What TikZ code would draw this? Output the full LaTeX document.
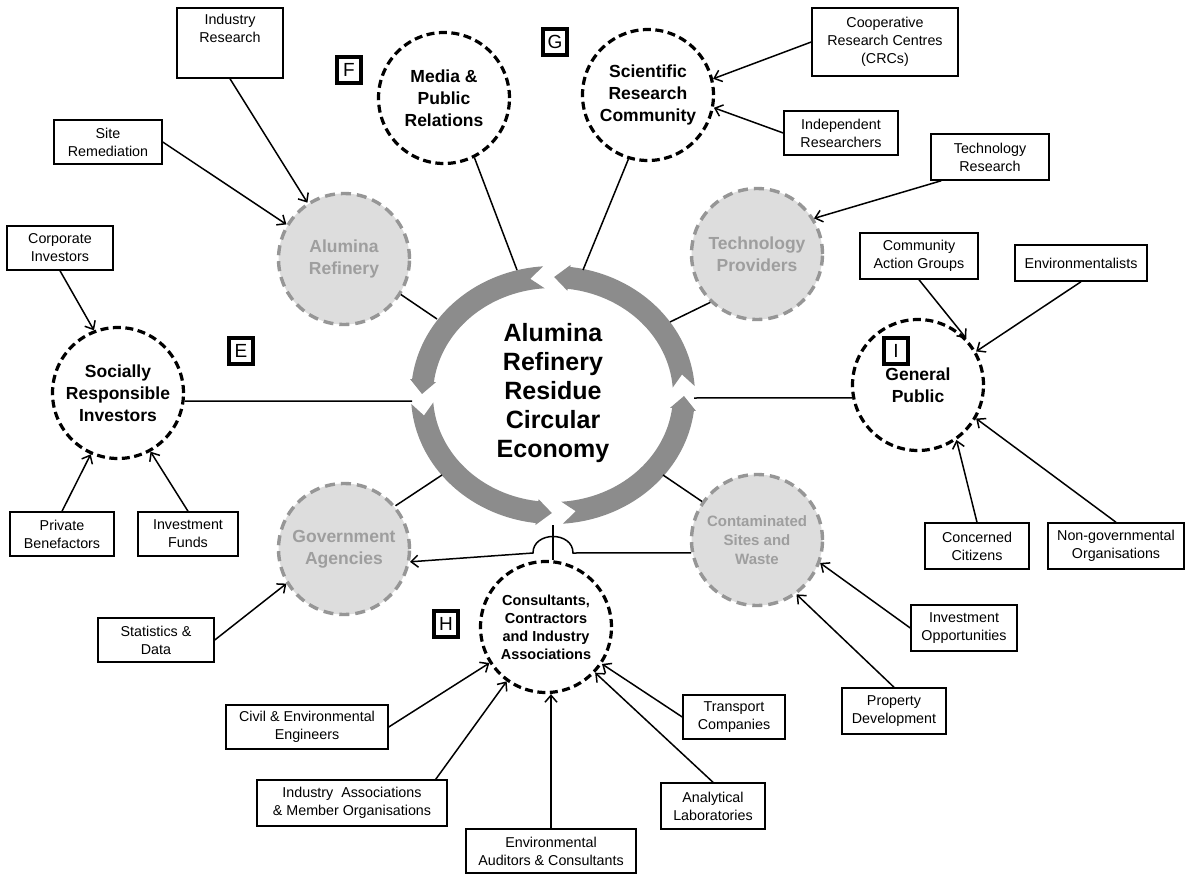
\documentclass[tikz,border=0pt]{standalone}
\usepackage{fontspec}
\setmainfont{Liberation Sans}
\usetikzlibrary{arrows.meta}
\definecolor{ringgray}{RGB}{140,140,140}
\definecolor{softfill}{RGB}{221,221,221}
\definecolor{softline}{RGB}{150,150,150}
\definecolor{softtext}{RGB}{158,158,158}
\tikzset{
  stake/.style={circle, draw=black, line width=3.2pt, dash pattern=on 8pt off 4.5pt,
    fill=white, minimum size=131pt, inner sep=0pt, align=center,
    font=\bfseries\fontsize{17.5}{22}\selectfont},
  core/.style={circle, draw=softline, line width=3.4pt, dash pattern=on 10pt off 6pt,
    fill=softfill, minimum size=131pt, inner sep=0pt, align=center, text=softtext,
    font=\bfseries\fontsize{17.5}{22}\selectfont},
  infobox/.style={draw, line width=1.5pt, fill=white, align=center, inner sep=1pt,
    font=\fontsize{14.3}{18}\selectfont},
  tag/.style={draw, line width=3.2pt, minimum width=24pt, minimum height=26pt,
    inner sep=0pt, font=\fontsize{19}{19}\selectfont},
  feed/.style={-{Straight Barb[length=7pt,width=12pt]}, line width=1.5pt},
  link/.style={line width=1.5pt},
}
\begin{document}
\begin{tikzpicture}[x=1pt, y=-1pt]
\useasboundingbox (0,0) rectangle (1189,875);
\fill[white] (0,0) rectangle (1189,875);

% ---- central cycle: four curved block arrows running anticlockwise
\def\cx{553}\def\cy{395}
\foreach \s in {0,90,180,270}{
  \pgfmathsetmacro\ta{\s+4}
  \pgfmathsetmacro\tn{\s+10}
  \pgfmathsetmacro\hb{\s+83}
  \pgfmathsetmacro\ht{\s+89.5}
  \fill[ringgray]
    plot[domain=\ta:\hb, samples=40] ({\cx+142*cos(\x)},{\cy-129*sin(\x)})
    -- ({\cx+144*cos(\hb)},{\cy-131*sin(\hb)})
    -- ({\cx+131*cos(\ht)},{\cy-118*sin(\ht)})
    -- ({\cx+118*cos(\hb)},{\cy-105*sin(\hb)})
    -- plot[domain=\hb:\ta, samples=40] ({\cx+120*cos(\x)},{\cy-107*sin(\x)})
    -- ({\cx+131*cos(\tn)},{\cy-118*sin(\tn)})
    -- cycle;
}
\node[align=center, font=\bfseries\fontsize{25}{29}\selectfont] (hub) at (553,393)
  {Alumina\\Refinery\\Residue\\Circular\\Economy};

% attachment points on the cycle
\coordinate (rMedia) at (517,270);
\coordinate (rSci)   at (583,270);
\coordinate (rAlr)   at (437,319);
\coordinate (rTech)  at (670,322);
\coordinate (rWest)  at (412,401);
\coordinate (rEast)  at (694,398);
\coordinate (rGov)   at (442,475);
\coordinate (rCont)  at (663,475);
\coordinate (rSouth) at (553,525);
\coordinate (cross)  at (553,553);

% ---- stakeholder circles
\node[stake] (media) at (444,98)  {Media \&\\Public\\Relations};
\node[stake] (sci)   at (648,95)  {Scientific\\Research\\Community};
\node[stake] (sri)   at (118,393) {Socially\\Responsible\\Investors};
\node[stake] (gp)    at (918,385) {General\\Public};
\node[stake, font=\bfseries\fontsize{14.5}{18}\selectfont] (cca) at (546,627)
  {Consultants,\\Contractors\\and Industry\\Associations};

\node[core] (alr) at (344,259) {Alumina\\Refinery};
\node[core] (tp)  at (757,254) {Technology\\Providers};
\node[core] (ga)  at (344,549) {Government\\Agencies};
\node[core, font=\bfseries\fontsize{15}{19}\selectfont] (csw) at (757,540)
  {Contaminated\\Sites and\\Waste};

% ---- group letters
\node[tag] (tagF) at (349,70)  {F};
\node[tag] (tagG) at (555,42)  {G};
\node[tag] (tagE) at (241,351) {E};
\node[tag] (tagI) at (896,351) {I};
\node[tag] (tagH) at (446,624) {H};

% ---- contributing groups
\node[infobox, minimum width=106pt, minimum height=70pt, text depth=30pt] (ir) at (230,43) {Industry\\Research};
\node[infobox, minimum width=108pt, minimum height=44pt] (sr)  at (108,142) {Site\\Remediation};
\node[infobox, minimum width=106pt, minimum height=44pt] (ci)  at (60,248)  {Corporate\\Investors};
\node[infobox, minimum width=104pt, minimum height=44pt] (pb)  at (62,534)  {Private\\Benefactors};
\node[infobox, minimum width=100pt, minimum height=44pt] (ifu) at (188,534) {Investment\\Funds};
\node[infobox, minimum width=146pt, minimum height=68pt] (crc) at (885,42)  {Cooperative\\Research Centres\\(CRCs)};
\node[infobox, minimum width=114pt, minimum height=44pt] (ind) at (841,133) {Independent\\Researchers};
\node[infobox, minimum width=118pt, minimum height=46pt] (tr)  at (990,157) {Technology\\Research};
\node[infobox, minimum width=118pt, minimum height=46pt] (cag) at (919,256) {Community\\Action Groups};
\node[infobox, minimum width=132pt, minimum height=36pt] (env) at (1081,263) {Environmentalists};
\node[infobox, minimum width=104pt, minimum height=46pt] (cc)  at (977,546) {Concerned\\Citizens};
\node[infobox, minimum width=136pt, minimum height=46pt] (ngo) at (1116,546) {Non-governmental\\Organisations};
\node[infobox, minimum width=106pt, minimum height=46pt] (io)  at (964,628) {Investment\\Opportunities};
\node[infobox, minimum width=104pt, minimum height=46pt] (pd)  at (894,711) {Property\\Development};
\node[infobox, minimum width=116pt, minimum height=44pt] (sd)  at (156,640) {Statistics \&\\Data};
\node[infobox, minimum width=162pt, minimum height=44pt] (ce)  at (307,727) {Civil \& Environmental\\Engineers};
\node[infobox, minimum width=190pt, minimum height=46pt] (ia)  at (352,803) {Industry\ \ Associations\\\& Member Organisations};
\node[infobox, minimum width=170pt, minimum height=44pt] (eac) at (551,851) {Environmental\\Auditors \& Consultants};
\node[infobox, minimum width=104pt, minimum height=46pt] (al)  at (713,806) {Analytical\\Laboratories};
\node[infobox, minimum width=102pt, minimum height=44pt] (tc)  at (734,717) {Transport\\Companies};

% ---- links between the cycle and the stakeholders
\draw[link] (rMedia) -- (media.-63);
\draw[link] (rSci)   -- (sci.-107);
\draw[link] (rAlr)   -- (alr.-32);
\draw[link] (rTech)  -- (tp.226);
\draw[link] (rWest)  -- (sri.-7);
\draw[link] (rEast)  -- (gp.191);
\draw[link] (rGov)   -- (ga.40);
\draw[link] (rCont)  -- (csw.145);
\draw[link] (rSouth) -- (rSouth |- cca.north);
\draw[feed] (csw.191) -- ([xshift=20pt]cross)
  .. controls +(0,-22) and +(0,-22) .. ([xshift=-20pt]cross) -- (ga.-11);

% ---- arrows from contributing groups
\draw[feed] (ir.south)  -- (alr.123);
\draw[feed] (sr.east)   -- (alr.149);
\draw[feed] (ci.south)  -- (sri.111);
\draw[feed] (pb.north)  -- (sri.246);
\draw[feed] (ifu.north) -- (sri.299);
\draw[feed] (crc.west)  -- (sci.14);
\draw[feed] (ind.west)  -- (sci.349);
\draw[feed] ([xshift=11pt]tr.south west) -- (tp.32);
\draw[feed] (cag.south) -- (gp.44);
\draw[feed] (env.south) -- (gp.30);
\draw[feed] (cc.north)  -- (gp.-55);
\draw[feed] (ngo.north) -- (gp.-30);
\draw[feed] (io.west)   -- (csw.-20);
\draw[feed] (pd.north)  -- (csw.-54);
\draw[feed] (sd.east)   -- (ga.211);
\draw[feed] (ce.east)   -- (cca);
\draw[feed] ([xshift=-12pt]ia.north east) -- (cca);
\draw[feed] (eac.north) -- (eac.north |- cca.south);
\draw[feed] (al.north)  -- (cca);
\draw[feed] (tc.west)   -- (cca);
\end{tikzpicture}
\end{document}
